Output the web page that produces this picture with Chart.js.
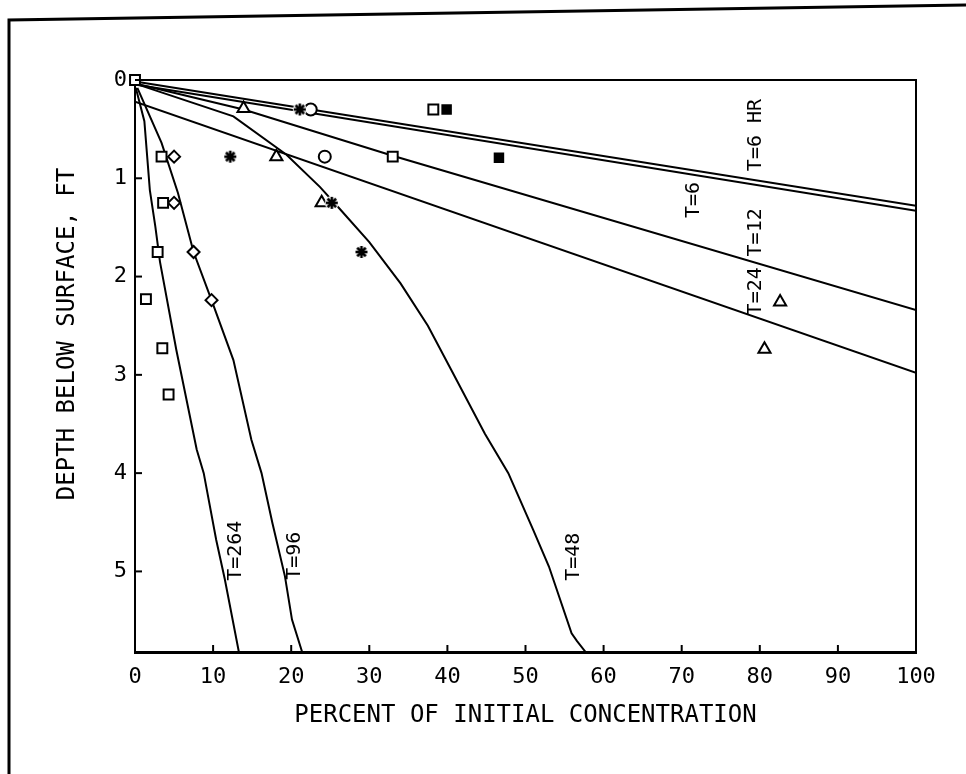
<!DOCTYPE html>
<html>
<head>
<meta charset="utf-8">
<script src="https://cdn.jsdelivr.net/npm/chart.js@4.4.1/dist/chart.umd.min.js"></script>
<style>
  html, body { margin: 0; padding: 0; background: #fff; }
  #wrap { position: relative; width: 966px; height: 774px; }
</style>
</head>
<body>
<div id="wrap"><canvas id="depthChart"></canvas></div>
<script>
// Ejes
const xTicks = [0, 10, 20, 30, 40, 50, 60, 70, 80, 90, 100];
const yTicks = [0, 1, 2, 3, 4, 5];
const yMax = 5.82;
const yTitle = 'DEPTH BELOW SURFACE, FT';
const xTitle = 'PERCENT OF INITIAL CONCENTRATION';

// Curvas (porcentaje / profundidad)
const pctT6hr = [0.4, 100];
const depthT6hr = [0.02, 1.28];
const pctT6 = [0.4, 100];
const depthT6 = [0.05, 1.33];
const pctT12 = [0.3, 13.9, 33, 100];
const depthT12 = [0.04, 0.3, 0.77, 2.34];
const pctT24 = [0, 100];
const depthT24 = [0.22, 2.98];
const pctT48 = [0.5, 12.6, 19.4, 23.7, 26.2, 30, 34, 37.5, 40.5, 44.8, 47.8, 51, 53, 55.9, 56.6, 57.7];
const depthT48 = [0.05, 0.37, 0.76, 1.09, 1.31, 1.65, 2.07, 2.5, 2.95, 3.6, 4.0, 4.58, 4.95, 5.63, 5.71, 5.82];
const pctT96 = [0.3, 3.4, 5.5, 7.5, 9.8, 12.6, 14.9, 16.2, 17.6, 19.2, 20.1, 21.4];
const depthT96 = [0.08, 0.64, 1.15, 1.75, 2.24, 2.85, 3.66, 4.0, 4.51, 5.05, 5.49, 5.82];
const pctT264 = [0.1, 1.2, 1.9, 2.6, 3.2, 5.3, 7.9, 8.8, 10.4, 11.5, 13.3];
const depthT264 = [0.08, 0.42, 1.12, 1.49, 1.85, 2.75, 3.76, 4.0, 4.68, 5.08, 5.82];

// Mediciones
const squareX = [0, 38.2, 3.4, 33.0, 3.6, 2.9, 1.4, 3.5, 4.3];
const squareY = [0, 0.30, 0.78, 0.78, 1.25, 1.75, 2.23, 2.73, 3.2];
const filledX = [39.9, 46.6];
const filledY = [0.30, 0.79];
const diamondX = [5.0, 5.0, 7.5, 9.8];
const diamondY = [0.78, 1.25, 1.75, 2.24];
const triangleX = [13.9, 18.1, 23.9, 82.6, 80.6];
const triangleY = [0.29, 0.78, 1.25, 2.26, 2.74];
const starX = [21.1, 12.2, 25.2, 29.0];
const starY = [0.30, 0.78, 1.25, 1.75];
const circleX = [22.5, 24.3];
const circleY = [0.30, 0.78];

// Etiquetas de curvas
const curveLabels = ['T=6 HR', 'T=6', 'T=12', 'T=24', 'T=48', 'T=96', 'T=264'];
const labelX = [79.5, 71.6, 79.5, 79.5, 56.2, 20.5, 12.9];
const labelY = [0.56, 1.22, 1.55, 2.15, 4.85, 4.84, 4.79];

const pts = (xs, ys) => xs.map((x, i) => ({ x: x, y: ys[i] }));

function curve(xs, ys) {
    return {
        data: pts(xs, ys),
        showLine: true,
        borderColor: '#000',
        borderWidth: 2,
        pointRadius: 0,
        pointHoverRadius: 0,
        tension: 0,
        fill: false,
    };
}

function marks(xs, ys, style, radius, fill) {
    return {
        data: pts(xs, ys),
        showLine: false,
        clip: false,
        pointStyle: style,
        pointRadius: radius,
        pointHoverRadius: radius,
        pointBorderWidth: 2,
        pointBorderColor: '#000',
        pointBackgroundColor: fill,
    };
}

// Asterisco con fondo blanco
const starImg = document.createElement('canvas');
starImg.width = 16;
starImg.height = 16;
const sc = starImg.getContext('2d');
sc.fillStyle = '#fff';
sc.beginPath();
sc.arc(8, 8, 7, 0, 2 * Math.PI);
sc.fill();
sc.strokeStyle = '#000';
sc.lineWidth = 2.6;
for (let a = 0; a < 4; a++) {
    const ang = a * Math.PI / 4;
    sc.beginPath();
    sc.moveTo(8 - 6 * Math.cos(ang), 8 - 6 * Math.sin(ang));
    sc.lineTo(8 + 6 * Math.cos(ang), 8 + 6 * Math.sin(ang));
    sc.stroke();
}

const monoFont = "'DejaVu Sans Mono', 'Liberation Mono', monospace";

// Marco, marcas interiores y rotulos
const decorPlugin = {
    id: 'decor',
    afterDraw(chart) {
        const ctx = chart.ctx;
        const area = chart.chartArea;
        const xs = chart.scales.x;
        const ys = chart.scales.y;
        ctx.save();
        ctx.strokeStyle = '#000';

        // marco exterior
        ctx.lineWidth = 3;
        ctx.beginPath();
        ctx.moveTo(9, 774);
        ctx.lineTo(9, 20);
        ctx.lineTo(966, 5);
        ctx.stroke();

        // lados superior y derecho
        ctx.lineWidth = 2;
        ctx.beginPath();
        ctx.moveTo(area.left, area.top);
        ctx.lineTo(area.right, area.top);
        ctx.lineTo(area.right, area.bottom);
        ctx.stroke();

        // marcas hacia dentro
        xTicks.forEach(v => {
            const px = xs.getPixelForValue(v);
            ctx.beginPath();
            ctx.moveTo(px, area.bottom);
            ctx.lineTo(px, area.bottom - 7);
            ctx.stroke();
        });
        yTicks.forEach(v => {
            const py = ys.getPixelForValue(v);
            ctx.beginPath();
            ctx.moveTo(area.left, py);
            ctx.lineTo(area.left + 7, py);
            ctx.stroke();
        });

        ctx.fillStyle = '#000';
        ctx.textAlign = 'center';
        ctx.textBaseline = 'middle';

        // titulo del eje y
        ctx.font = '24px ' + monoFont;
        ctx.save();
        ctx.translate(68, 334);
        ctx.rotate(-Math.PI / 2);
        ctx.fillText(yTitle, 0, 0);
        ctx.restore();

        // rotulos verticales
        ctx.font = '20px ' + monoFont;
        curveLabels.forEach((txt, i) => {
            ctx.save();
            ctx.translate(xs.getPixelForValue(labelX[i]), ys.getPixelForValue(labelY[i]));
            ctx.rotate(-Math.PI / 2);
            ctx.fillText(txt, 0, 0);
            ctx.restore();
        });
        ctx.restore();
    }
};

const config = {
    type: 'scatter',
    data: {
        datasets: [
            marks(starX, starY, starImg, 7, '#fff'),
            marks(squareX, squareY, 'rect', 7, '#fff'),
            marks(filledX, filledY, 'rect', 6, '#000'),
            marks(circleX, circleY, 'circle', 6, '#fff'),
            marks(triangleX, triangleY, 'triangle', 7, '#fff'),
            marks(diamondX, diamondY, 'rectRot', 6, '#fff'),
            curve(pctT6hr, depthT6hr),
            curve(pctT6, depthT6),
            curve(pctT12, depthT12),
            curve(pctT24, depthT24),
            curve(pctT48, depthT48),
            curve(pctT96, depthT96),
            curve(pctT264, depthT264),
        ],
    },
    options: {
        animation: false,
        responsive: true,
        maintainAspectRatio: false,
        devicePixelRatio: 1,
        layout: {
            padding: { top: 80, right: 50, left: 0, bottom: 0 },
        },
        scales: {
            x: {
                type: 'linear',
                min: 0,
                max: 100,
                afterFit: (scale) => { scale.height = 122; },
                grid: { display: false, drawTicks: false },
                border: { display: true, color: '#000', width: 3 },
                ticks: {
                    stepSize: 10,
                    padding: 12,
                    color: '#000',
                    font: { family: monoFont, size: 22 },
                    maxRotation: 0,
                },
                title: {
                    display: true,
                    text: xTitle,
                    color: '#000',
                    font: { family: monoFont, size: 24 },
                    padding: { top: 0, bottom: 44 },
                },
            },
            y: {
                type: 'linear',
                min: 0,
                max: yMax,
                reverse: true,
                afterFit: (scale) => { scale.width = 135; },
                grid: { display: false, drawTicks: false },
                border: { display: true, color: '#000', width: 2 },
                ticks: {
                    stepSize: 1,
                    includeBounds: false,
                    padding: 8,
                    color: '#000',
                    font: { family: monoFont, size: 22 },
                },
            },
        },
        plugins: {
            legend: { display: false },
            tooltip: { enabled: false },
        },
    },
    plugins: [decorPlugin],
};

const depthChart = new Chart(document.getElementById('depthChart'), config);
</script>
</body>
</html>
